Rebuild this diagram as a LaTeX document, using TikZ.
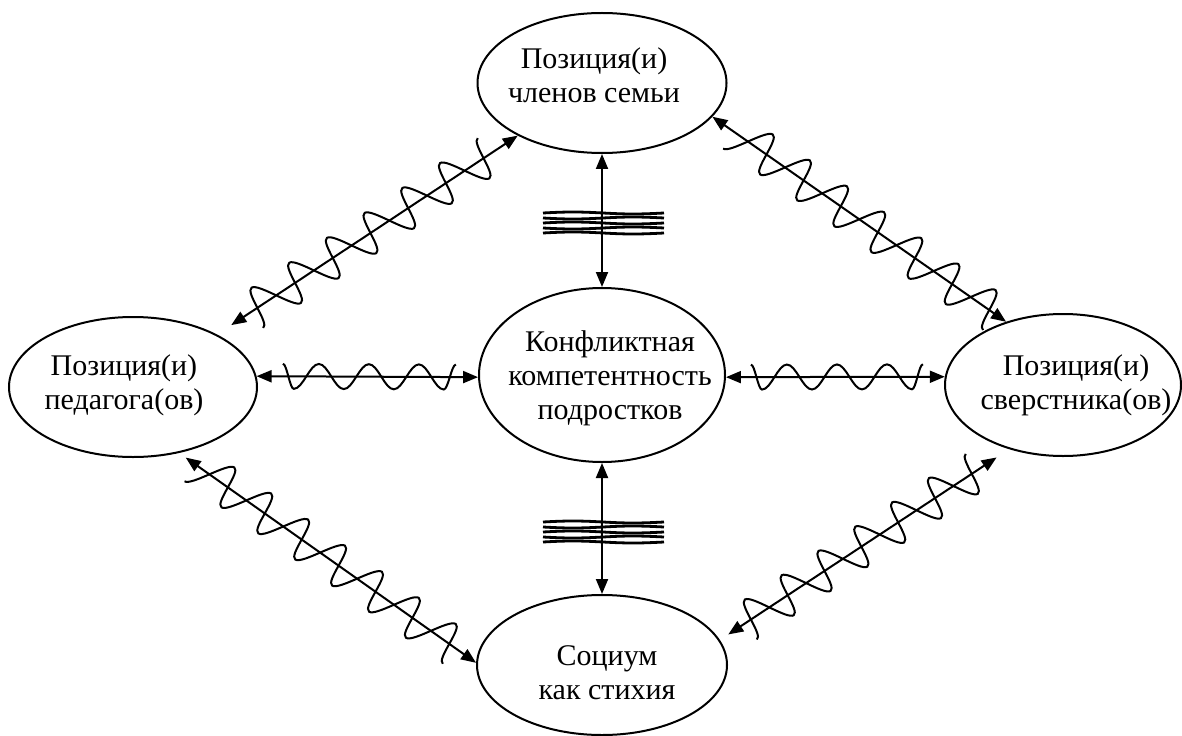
\documentclass[tikz,border=0pt]{standalone}
\usepackage{fontspec}
\setmainfont{Liberation Serif}
\usetikzlibrary{shapes.geometric,arrows.meta,calc}

\tikzstyle{blob}=[ellipse,draw,line width=1pt,inner sep=0pt]
\tikzstyle{txt}=[align=center,inner sep=0pt,font=\fontsize{15}{17}\selectfont]
\tikzstyle{link}=[line width=1pt,<->,>={Triangle[length=7.5pt,width=6pt]}]
\tikzstyle{wave}=[line width=1pt]
\tikzstyle{bundle}=[line width=1.4pt]

% wave laid along a link: start, first crest, half period, crests after the first, end, amplitude
\newcommand\wavy[6]{%
  (#1,#6) cos ({(#1+#2)/2},0) sin (#2,{-(#6)})
  foreach \k in {1,...,#4} {
    cos ({#2+(\k-0.5)*#3},0) sin ({#2+\k*#3},{(#6)*(2*mod(\k,2)-1)})
  }
  cos ({(#2+#4*#3+#5)/2},0) sin (#5,{(#6)*(1-2*mod(#4,2))})}

\begin{document}
\begin{tikzpicture}[x=0.5pt,y=0.5pt]
	\useasboundingbox (0,0) rectangle (1182,735);
	%The ellipses
	\foreach \pos/\ww/\hh/\name in {{(602,652)/124.5pt/70pt/fam}, {(133,348)/124pt/70pt/ped},
									{(602,360)/123pt/87pt/core}, {(1063,350)/118pt/71pt/peer},
									{(602,70)/125pt/70pt/soc}}
		\node[blob,minimum width=\ww,minimum height=\hh] (\name) at \pos {};
	%The texts
	\node[txt] at (594,660) {Позиция(и)\\членов семьи};
	\node[txt] at (124,350) {Позиция(и)\\педагога(ов)};
	\node[txt] at (610,357) {Конфликтная\\компетентность\\подростков};
	\node[txt] at (1076,350) {Позиция(и)\\сверстника(ов)};
	\node[txt] at (607,62) {Социум\\как стихия};
	%The links
	\draw[link] (fam.south) -- (core.north);
	\draw[link] (core.south) -- (soc.north);
	\draw[link] (ped.5) -- (core.181);
	\draw[link] (core.359) -- (peer.176);
	\draw[link,shorten <=8.5pt] (ped.32) -- (fam.212);
	\draw[link] (fam.343) -- (peer.132);
	\draw[link,shorten <=4pt] (ped.305) -- (soc.179);
	\draw[link,shorten <=5pt,shorten >=7.5pt] (soc.12) -- (peer.230);
	%The waves over the links
	\draw[wave] let \p1=($(core.181)-(ped.5)$), \n1={atan2(\y1,\x1)} in
		[shift={(ped.5)},rotate=\n1] \wavy{26.3}{37.3}{25}{6}{199.3}{12.5};
	\draw[wave] let \p1=($(peer.176)-(core.359)$), \n1={atan2(\y1,\x1)} in
		[shift={(core.359)},rotate=\n1] \wavy{25}{36}{25}{6}{197}{12.5};
	\draw[wave] let \p1=($(fam.212)-(ped.32)$), \n1={atan2(\y1,\x1)} in
		[shift={(ped.32)},rotate=\n1,xslant=-0.25] \wavy{37}{59.6}{22.6}{11}{330.8}{-20};
	\draw[wave] let \p1=($(peer.132)-(fam.343)$), \n1={atan2(\y1,\x1)} in
		[shift={(fam.343)},rotate=\n1,xslant=0.25] \wavy{32}{54.6}{22.64}{12}{349}{-20};
	\draw[wave] let \p1=($(soc.179)-(ped.305)$), \n1={atan2(\y1,\x1)} in
		[shift={(ped.305)},rotate=\n1,xslant=0.25] \wavy{25.7}{48.3}{22.6}{12}{342}{-20};
	\draw[wave] let \p1=($(peer.230)-(soc.12)$), \n1={atan2(\y1,\x1)} in
		[shift={(soc.12)},rotate=\n1,xslant=-0.25] \wavy{26.1}{48.15}{22.05}{11}{312.7}{-20};
	%The bundles across the vertical links
	\foreach \base in {502,193}
		\foreach \y/\a in {0/1,5/-1,10/1,15/-1,20/1}
			\draw[bundle] (543,\base+\y) sin (573,\base+\y+\a) cos (603,\base+\y)
				sin (633,\base+\y-\a) cos (664,\base+\y);
\end{tikzpicture}
\end{document}
